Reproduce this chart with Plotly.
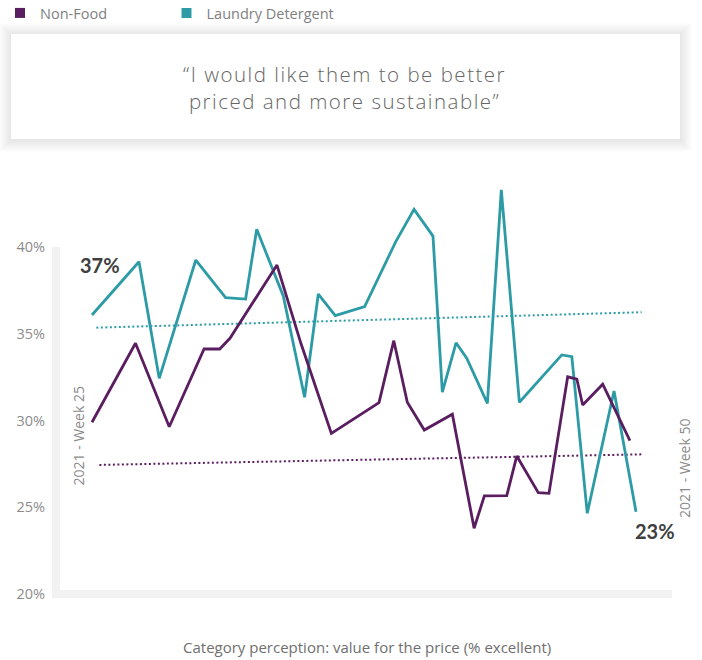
import plotly.graph_objects as go

# ---------------- data ----------------
series_names = ["Non-Food", "Laundry Detergent"]

nf_week = [25.0, 27.0, 28.55, 30.15, 30.87, 31.34, 33.5, 34.6, 36.0, 38.19, 38.87, 39.49,
           40.27, 41.56, 42.56, 43.03, 44.06, 44.52, 45.51, 46.0, 46.86, 47.28, 47.55, 48.47, 49.72]
nf_val = [29.9, 34.45, 29.64, 34.12, 34.12, 34.74, 38.96, 34.45, 29.26, 31.03, 34.6, 31.05,
          29.45, 30.36, 23.79, 25.65, 25.67, 27.95, 25.84, 25.8, 32.52, 32.39, 30.89, 32.09, 28.84]

ld_week = [25.0, 27.16, 28.09, 29.77, 31.14, 32.06, 32.57, 33.79, 34.77, 35.4, 36.18, 37.53,
           38.96, 39.8, 40.67, 41.1, 41.73, 42.22, 43.17, 43.81, 44.64, 46.59, 47.05, 47.76, 48.99, 50.0]
ld_val = [36.08, 39.15, 32.43, 39.25, 37.08, 37.0, 41.02, 37.18, 31.34, 37.29, 36.04, 36.56,
          40.31, 42.17, 40.63, 31.63, 34.48, 33.59, 30.99, 43.29, 31.05, 33.78, 33.68, 24.65, 31.7, 24.74]

nf_trend_week = [25.34, 50.34]
nf_trend_val = [27.44, 28.05]
ld_trend_week = [25.2, 50.26]
ld_trend_val = [35.35, 36.24]

y_tickvals = [20, 25, 30, 35, 40]
y_ticktext = ["20%", "25%", "30%", "35%", "40%"]

start_label = "37%"
end_label = "23%"
start_week_label = "2021 - Week 25"
end_week_label = "2021 - Week 50"
quote_lines = ["\u201cI would like them to be better", "priced and more sustainable\u201d"]
x_title = "Category perception: value for the price (% excellent)"

# ---------------- style ----------------
PURPLE = "#5a1e60"
TEAL = "#2c9ba5"
GREY_TXT = "#8a8a8a"
FONT = "Open Sans"

W, H = 702, 660
# plot area in pixels: y=40% at 247, y=20% at 594
Y40_PX, Y20_PX = 247, 594
PX_PER_PCT = (Y20_PX - Y40_PX) / 20.0
T = 165
L, R, B = 56, 30, H - Y20_PX
Y_TOP = 40 + (Y40_PX - T) / PX_PER_PCT
PW, PH = W - L - R, H - T - B


def px(xp):
    return (xp - L) / PW


def py(yp):
    return (H - B - yp) / PH


fig = go.Figure()

# trend lines
fig.add_trace(go.Scatter(x=ld_trend_week, y=ld_trend_val, mode="lines",
                         line=dict(color=TEAL, width=2, dash="2px,2.5px"),
                         showlegend=False, hoverinfo="skip"))
fig.add_trace(go.Scatter(x=nf_trend_week, y=nf_trend_val, mode="lines",
                         line=dict(color=PURPLE, width=2, dash="2px,2.5px"),
                         showlegend=False, hoverinfo="skip"))

# main series
fig.add_trace(go.Scatter(x=ld_week, y=ld_val, mode="lines", name=series_names[1],
                         line=dict(color=TEAL, width=2.8), showlegend=False))
fig.add_trace(go.Scatter(x=nf_week, y=nf_val, mode="lines", name=series_names[0],
                         line=dict(color=PURPLE, width=2.8), showlegend=False))

# legend entries (square swatches), one legend box each for exact placement
for name, col, lg in zip(series_names, [PURPLE, TEAL], ["legend", "legend2"]):
    fig.add_trace(go.Scatter(x=[None], y=[None], mode="markers", name=name,
                             marker=dict(symbol="square", size=10, color=col),
                             showlegend=True, legend=lg))

shapes = []
# quote box shadow
bx0, by0, bx1, by1 = 11, 34, 680, 139
for i in range(12, 0, -1):
    shapes.append(dict(type="rect", xref="paper", yref="paper",
                       x0=px(bx0 - i), x1=px(bx1 + i), y0=py(by1 + i + 1), y1=py(by0 - i + 1),
                       line=dict(width=0), fillcolor="rgba(0,0,0,0.008)", layer="below"))
shapes.append(dict(type="rect", xref="paper", yref="paper",
                   x0=px(bx0), x1=px(bx1), y0=py(by1), y1=py(by0),
                   line=dict(width=0), fillcolor="white", layer="below"))
# axis bars
shapes.append(dict(type="line", xref="paper", yref="paper", x0=0, x1=0, y0=0, y1=py(Y40_PX),
                   line=dict(color="#f2f2f2", width=8), layer="below"))
shapes.append(dict(type="line", xref="paper", yref="paper", x0=-4 / PW, x1=1, y0=0, y1=0,
                   line=dict(color="#f2f2f2", width=8), layer="below"))

quote_html = "<br>".join(
    '<span style="letter-spacing:1.5px">' + s + "</span>" for s in quote_lines)

annotations = [
    dict(text=quote_html, xref="paper", yref="paper", x=px(344), y=py(87.5), showarrow=False,
         xanchor="center", yanchor="middle", align="center",
         font=dict(family=FONT, size=20.5, color="#666666", weight=300)),
    dict(text="<b>" + start_label + "</b>", xref="paper", yref="paper", x=px(100), y=py(265),
         showarrow=False, xanchor="center", yanchor="middle",
         font=dict(family="Lato", size=20, color="#404040")),
    dict(text="<b>" + end_label + "</b>", xref="paper", yref="paper", x=px(655), y=py(531),
         showarrow=False, xanchor="center", yanchor="middle",
         font=dict(family="Lato", size=20, color="#404040")),
    dict(text=start_week_label, xref="paper", yref="paper", x=px(77.5), y=py(436),
         showarrow=False, textangle=-90, xanchor="center", yanchor="middle",
         font=dict(family=FONT, size=14, color=GREY_TXT)),
    dict(text=end_week_label, xref="paper", yref="paper", x=px(684), y=py(469),
         showarrow=False, textangle=-90, xanchor="center", yanchor="middle",
         font=dict(family=FONT, size=14, color=GREY_TXT)),
    dict(text=x_title, xref="paper", yref="paper", x=px(367), y=py(647),
         showarrow=False, xanchor="center", yanchor="middle",
         font=dict(family=FONT, size=15, color="#6f6f6f")),
]

legend_style = dict(orientation="h", xref="container", yref="container",
                    xanchor="left", yanchor="middle",
                    font=dict(family=FONT, size=14.5, color="#7f7f7f"),
                    bgcolor="rgba(0,0,0,0)", borderwidth=0, itemclick=False)

fig.update_layout(
    width=W, height=H,
    margin=dict(l=L, r=R, t=T, b=B, pad=0, autoexpand=False),
    paper_bgcolor="white", plot_bgcolor="rgba(0,0,0,0)",
    font=dict(family=FONT, color=GREY_TXT),
    xaxis=dict(range=[23.346, 51.654], visible=False, fixedrange=True),
    yaxis=dict(range=[20, Y_TOP], tickvals=y_tickvals, ticktext=y_ticktext,
               showgrid=False, zeroline=False, showline=False, ticks="",
               ticklabelstandoff=10, tickfont=dict(family=FONT, size=14.5, color="#8c8c8c"),
               fixedrange=True),
    showlegend=True,
    legend=dict(x=-1 / W, y=1 - 13 / H, **legend_style),
    legend2=dict(x=(185.5 - 19) / W, y=1 - 13 / H, **legend_style),
    shapes=shapes,
    annotations=annotations,
)

fig.write_html("out.html")
